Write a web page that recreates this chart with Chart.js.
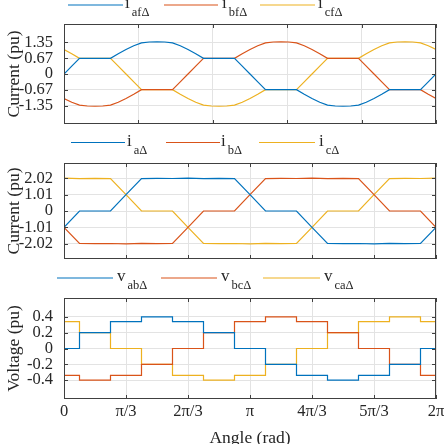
<!DOCTYPE html>
<html>
<head>
<meta charset="utf-8">
<script src="https://cdn.jsdelivr.net/npm/chart.js@4.4.1/dist/chart.umd.min.js"></script>
<style>
  html, body { margin: 0; padding: 0; background: #fff; overflow: hidden; }
  body { width: 444px; height: 444px; position: relative; }
  canvas { position: absolute; left: 0; }
</style>
</head>
<body>
<canvas id="filterChart" width="444" height="134" style="top:0px"></canvas>
<canvas id="lineChart" width="444" height="135" style="top:134px"></canvas>
<canvas id="voltChart" width="444" height="180" style="top:269px"></canvas>
<script>
// angle is in units of pi/6 (0 .. 12 = 0 .. 2pi)
const angleFine = [0, 0.25, 0.5, 0.75, 1, 1.25, 1.5, 1.75, 2, 2.25, 2.5, 2.75, 3, 3.25, 3.5, 3.75,
  4, 4.25, 4.5, 4.75, 5, 5.25, 5.5, 5.75, 6, 6.25, 6.5, 6.75, 7, 7.25, 7.5, 7.75,
  8, 8.25, 8.5, 8.75, 9, 9.25, 9.5, 9.75, 10, 10.25, 10.5, 10.75, 11, 11.25, 11.5, 11.75, 12];
const angleHalf = [0, 0.5, 1, 1.5, 2, 2.5, 3, 3.5, 4, 4.5, 5, 5.5, 6, 6.5, 7, 7.5, 8, 8.5, 9, 9.5, 10, 10.5, 11, 11.5, 12];
const angleStep = [0, 1, 2, 3, 4, 5, 6, 7, 8, 9, 10, 11, 12];

// filter currents
const iafD = [0, 0.335, 0.67, 0.67, 0.67, 0.67, 0.67, 0.87, 1.05, 1.21, 1.33, 1.37, 1.38, 1.37, 1.33, 1.21, 1.05, 0.87,
  0.67, 0.67, 0.67, 0.67, 0.67, 0.335, 0, -0.335, -0.67, -0.67, -0.67, -0.67, -0.67,
  -0.87, -1.05, -1.21, -1.33, -1.37, -1.38, -1.37, -1.33, -1.21, -1.05, -0.87,
  -0.67, -0.67, -0.67, -0.67, -0.67, -0.335, 0];
const ibfD = [-1.05, -1.21, -1.33, -1.37, -1.38, -1.37, -1.33, -1.21, -1.05, -0.87,
  -0.67, -0.67, -0.67, -0.67, -0.67, -0.335, 0, 0.335, 0.67, 0.67, 0.67, 0.67, 0.67,
  0.87, 1.05, 1.21, 1.33, 1.37, 1.38, 1.37, 1.33, 1.21, 1.05, 0.87,
  0.67, 0.67, 0.67, 0.67, 0.67, 0.335, 0, -0.335, -0.67, -0.67, -0.67, -0.67, -0.67, -0.87, -1.05];
const icfD = [1.05, 0.87, 0.67, 0.67, 0.67, 0.67, 0.67, 0.335, 0, -0.335, -0.67, -0.67, -0.67, -0.67, -0.67,
  -0.87, -1.05, -1.21, -1.33, -1.37, -1.38, -1.37, -1.33, -1.21, -1.05, -0.87,
  -0.67, -0.67, -0.67, -0.67, -0.67, -0.335, 0, 0.335, 0.67, 0.67, 0.67, 0.67, 0.67,
  0.87, 1.05, 1.21, 1.33, 1.37, 1.38, 1.37, 1.33, 1.21, 1.05];

// line currents
const iaD = [-1.01, 0, 0, 0, 1.01, 2.0, 2.02, 2.01, 2.03, 2.0, 2.02, 2.0, 1.01, 0, 0, 0,
  -1.01, -2.0, -2.02, -2.01, -2.03, -2.0, -2.02, -2.0, -1.01];
const ibD = [-1.01, -2.0, -2.02, -2.01, -2.03, -2.0, -2.02, -2.0, -1.01, 0, 0, 0,
  1.01, 2.0, 2.02, 2.01, 2.03, 2.0, 2.02, 2.0, 1.01, 0, 0, 0, -1.01];
const icD = [2.03, 2.0, 2.02, 2.0, 1.01, 0, 0, 0, -1.01, -2.0, -2.02, -2.01, -2.03, -2.0, -2.02, -2.0,
  -1.01, 0, 0, 0, 1.01, 2.0, 2.02, 2.01, 2.03];

// line voltages
const vabD = [0, 0.2, 0.34, 0.4, 0.34, 0.2, 0, -0.2, -0.34, -0.4, -0.34, -0.2, 0];
const vbcD = [-0.34, -0.4, -0.34, -0.2, 0, 0.2, 0.34, 0.4, 0.34, 0.2, 0, -0.2, -0.34];
const vcaD = [0.34, 0.2, 0, -0.2, -0.34, -0.4, -0.34, -0.2, 0, 0.2, 0.34, 0.4, 0.34];

const filterTicks = [-1.35, -0.67, 0, 0.67, 1.35];
const lineTicks = [-2.02, -1.01, 0, 1.01, 2.02];
const voltTicks = [-0.4, -0.2, 0, 0.2, 0.4];
const angleTicks = [0, 2, 4, 6, 8, 10, 12];
const angleTickLabels = ["0", "π/3", "2π/3", "π", "4π/3", "5π/3", "2π"];
const filterAngleTicks = [0, 2.4, 4.8, 7.2, 9.6, 12];

const filterSubs = ["afΔ", "bfΔ", "cfΔ"];
const lineSubs = ["aΔ", "bΔ", "cΔ"];
const voltSubs = ["abΔ", "bcΔ", "caΔ"];

const colors = ["#0072BD", "#D95319", "#EDB120"];
const gridColor = "#e3e3e3";
const axisColor = "#404040";
const textColor = "#262626";
const serif = "'Liberation Serif', 'Times New Roman', serif";

// legend layout: [lineStart, lineEnd, textX], line y (canvas coords)
const legendLayout = {
  filterChart: { y: 5, items: [[68, 123, 125], [164, 218, 222], [260, 315, 318]] },
  lineChart: { y: 8.5, items: [[71, 125, 127], [166, 220, 221], [259, 315, 319]] },
  voltChart: { y: 9, items: [[57, 113, 117], [161, 217, 221], [263, 320, 324]] },
};

const matlabAxes = {
  id: "matlabAxes",
  afterDraw(chart) {
    const { ctx, chartArea: a, scales } = chart;
    const x = scales.x;
    const y = scales.y;
    ctx.save();
    ctx.strokeStyle = axisColor;
    ctx.lineWidth = 1;
    ctx.beginPath();
    x.ticks.forEach((t) => {
      const px = Math.round(x.getPixelForValue(t.value)) + 0.5;
      ctx.moveTo(px, a.bottom);
      ctx.lineTo(px, a.bottom - 4);
      ctx.moveTo(px, a.top);
      ctx.lineTo(px, a.top + 4);
    });
    y.ticks.forEach((t) => {
      const py = Math.round(y.getPixelForValue(t.value)) + 0.5;
      ctx.moveTo(a.left, py);
      ctx.lineTo(a.left + 4, py);
      ctx.moveTo(a.right, py);
      ctx.lineTo(a.right - 4, py);
    });
    ctx.stroke();
    ctx.strokeRect(Math.round(a.left) + 0.5, Math.round(a.top) + 0.5,
      Math.round(a.width) - 1, Math.round(a.height) - 1);

    // legend with subscripts
    const lay = legendLayout[chart.canvas.id];
    chart.data.datasets.forEach((ds, i) => {
      const [x1, x2, tx] = lay.items[i];
      ctx.strokeStyle = ds.borderColor;
      ctx.lineWidth = 1.2;
      ctx.beginPath();
      ctx.moveTo(x1, lay.y);
      ctx.lineTo(x2, lay.y);
      ctx.stroke();
      ctx.fillStyle = textColor;
      ctx.textBaseline = "alphabetic";
      ctx.textAlign = "left";
      ctx.font = "17px " + serif;
      ctx.fillText(ds.sym, tx, lay.y + 3);
      const w = ctx.measureText(ds.sym).width;
      ctx.font = "12.5px " + serif;
      ctx.fillText(ds.sub, tx + w + 2, lay.y + 11);
    });
    ctx.restore();
  },
};

function makeChart(id, opts) {
  const datasets = opts.series.map((vals, i) => ({
    label: opts.sym + opts.subs[i],
    sym: opts.sym,
    sub: opts.subs[i],
    data: opts.angle.map((a, k) => ({ x: a, y: vals[k] })),
    borderColor: colors[i],
    borderWidth: 1.2,
    pointRadius: 0,
    tension: 0,
    fill: false,
    stepped: opts.stepped || false,
  }));

  return new Chart(document.getElementById(id), {
    type: "line",
    data: { datasets },
    plugins: [matlabAxes],
    options: {
      responsive: false,
      animation: false,
      devicePixelRatio: 1,
      layout: { padding: { top: opts.padTop, right: 8, bottom: 0, left: 0 } },
      plugins: { legend: { display: false }, tooltip: { enabled: false } },
      scales: {
        x: {
          type: "linear",
          min: 0,
          max: 12,
          afterBuildTicks: (s) => { s.ticks = opts.xTicks.map((v) => ({ value: v })); },
          afterFit: (s) => {
            s.height = opts.xHeight;
            s.paddingLeft = 0;
            s.paddingRight = 0;
          },
          grid: { color: gridColor, drawTicks: false },
          border: { display: false },
          ticks: {
            display: !!opts.xLabels,
            autoSkip: false,
            maxRotation: 0,
            padding: 3,
            color: textColor,
            font: { family: serif, size: 16.5 },
            callback: (v, i) => (opts.xLabels ? opts.xLabels[i] : ""),
          },
          title: {
            display: !!opts.xTitle,
            text: opts.xTitle || "",
            color: textColor,
            font: { family: serif, size: 17.5 },
            padding: { top: 0, bottom: 0 },
          },
        },
        y: {
          min: -opts.yMax,
          max: opts.yMax,
          afterBuildTicks: (s) => { s.ticks = opts.yTicks.map((v) => ({ value: v })); },
          afterFit: (s) => {
            s.width = 64;
            s.paddingTop = 0;
            s.paddingBottom = 0;
          },
          grid: { color: gridColor, drawTicks: false },
          border: { display: false },
          ticks: {
            autoSkip: false,
            padding: 11,
            color: textColor,
            font: { family: serif, size: 16.5 },
            callback: (v) => String(v),
          },
          title: {
            display: true,
            text: opts.yTitle,
            color: textColor,
            font: { family: serif, size: 17.5 },
            padding: { top: 3.5, bottom: 0 },
          },
        },
      },
    },
  });
}

makeChart("filterChart", {
  angle: angleFine,
  series: [iafD, ibfD, icfD],
  sym: "i",
  subs: filterSubs,
  padTop: 24,
  xHeight: 10,
  xTicks: filterAngleTicks,
  yMax: 2.14,
  yTicks: filterTicks,
  yTitle: "Current (pu)",
});

makeChart("lineChart", {
  angle: angleHalf,
  series: [iaD, ibD, icD],
  sym: "i",
  subs: lineSubs,
  padTop: 29,
  xHeight: 10,
  xTicks: angleTicks,
  yMax: 2.97,
  yTicks: lineTicks,
  yTitle: "Current (pu)",
});

makeChart("voltChart", {
  angle: angleStep,
  series: [vabD, vbcD, vcaD],
  sym: "v",
  subs: voltSubs,
  stepped: "middle",
  padTop: 29,
  xHeight: 50,
  xTicks: angleTicks,
  xLabels: angleTickLabels,
  xTitle: "Angle (rad)",
  yMax: 0.64,
  yTicks: voltTicks,
  yTitle: "Voltage (pu)",
});
</script>
</body>
</html>
